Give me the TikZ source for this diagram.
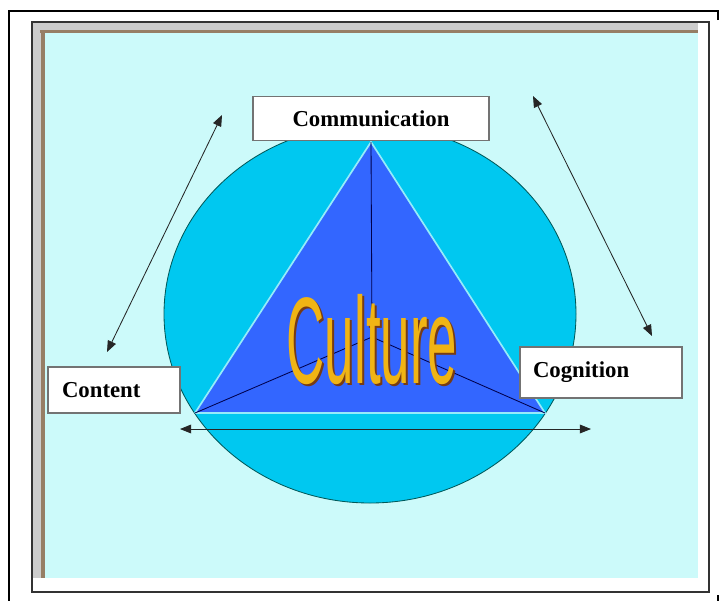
\documentclass[tikz,border=0pt]{standalone}
\usepackage{fontspec}
\setmainfont{Liberation Serif}
\newfontfamily\wordart{Liberation Sans}
\usetikzlibrary{arrows.meta}

\definecolor{celeste}{RGB}{204,250,250}
\definecolor{disco}{RGB}{0,200,240}
\definecolor{piramide}{RGB}{51,102,255}
\definecolor{borde}{RGB}{150,235,250}
\definecolor{marron}{RGB}{120,60,20}
\definecolor{dorado}{RGB}{240,180,20}

\begin{document}
\begin{tikzpicture}[x=0.025cm,y=-0.025cm]
\tikzstyle{caja texto}=[font=\fontsize{16.2}{18}\selectfont\bfseries,draw=black!55,fill=white,line width=1pt,inner sep=0pt]
\tikzstyle{flecha}=[{Triangle[length=0.28cm,width=0.22cm]}-{Triangle[length=0.28cm,width=0.22cm]},line width=0.6pt,draw=black!85]

\useasboundingbox (0,0) rectangle (721,601);
\draw[line width=1pt] (718,20) -- (718,11) -- (9,11) -- (9,601);
\draw[line width=1.5pt] (718,595) -- (718,601);
\draw[line width=1.2pt,draw=black!80,fill=white] (32,22) rectangle (709,592);
\fill[black!20] (33,23) rectangle (698,33);
\fill[black!20] (33,23) rectangle (45,578);
\fill[black!45!brown!70] (40,30) rectangle (698,33);
\fill[black!45!brown!70] (41,30) rectangle (45,578);
\fill[celeste] (45,33) rectangle (698,578);

\draw[fill=disco,draw=teal!70!black,line width=0.6pt] (370,314) ellipse [x radius=206, y radius=189];
\coordinate (v1) at (371,142);
\coordinate (v2) at (195,413);
\coordinate (v3) at (545,413);
\coordinate (v4) at (372,337);
\fill[piramide] (v1) -- (v2) -- (v3) -- cycle;
\draw[borde,line width=1.2pt] (v2) -- (v1) -- (v3) -- (v2);
\draw[blue!30!black,line width=0.6pt] (v1) -- (v4);
\draw[blue!30!black,line width=0.6pt] (v2) -- (v4) -- (v3);

\node[text=marron,font=\wordart\fontsize{87.5}{88}\selectfont,xscale=0.43,transform shape,anchor=base,inner sep=0pt] (v5) at (374,385) {Culture};
\node[text=dorado,font=\wordart\fontsize{87.5}{88}\selectfont,xscale=0.43,transform shape,anchor=base,inner sep=0pt] (v6) at (372,383) {Culture};

\node[caja texto,minimum width=236*0.025cm,minimum height=44*0.025cm] (v7) at (371,118.5) {Communication};
\node[caja texto,minimum width=132*0.025cm,minimum height=46*0.025cm,text width=104*0.025cm,align=left] (v8) at (114,390) {Content};
\node[caja texto,minimum width=162*0.025cm,minimum height=51*0.025cm,text width=136*0.025cm,align=left] (v9) at (601,372.5) {Cognition};

\coordinate (v10) at (222,115);
\coordinate (v11) at (107,352);
\coordinate (v12) at (533,96);
\coordinate (v13) at (652,336);
\coordinate (v14) at (180,429);
\coordinate (v15) at (591,429);
\draw[flecha] (v10) -- (v11);
\draw[flecha] (v12) -- (v13);
\draw[flecha] (v14) -- (v15);
\end{tikzpicture}
\end{document}
